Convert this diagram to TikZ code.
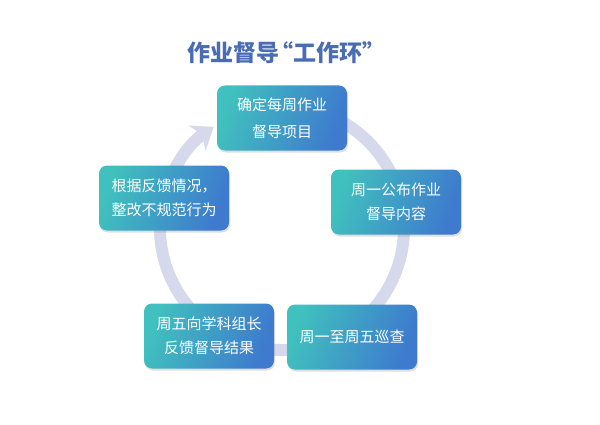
\documentclass[tikz,border=0pt]{standalone}
\usepackage{fontspec}
\newfontfamily\cjk{Noto Sans CJK SC}
\definecolor{TitleBlue}{RGB}{74, 108, 180}
\definecolor{BoxTeal}{RGB}{64, 192, 190}
\definecolor{BoxBlue}{RGB}{62, 122, 206}
\definecolor{RingGray}{RGB}{214, 217, 236}
\usetikzlibrary{arrows.meta, shadows}

\begin{document}
\begin{tikzpicture}[
    x=1pt, y=1pt,
    every node/.style={font=\cjk},
    stepbox/.style={rounded corners=8pt, minimum width=130pt, minimum height=65pt,
        align=center, text=white, font=\cjk\fontsize{15}{24}\selectfont,
        top color=BoxTeal, bottom color=BoxBlue, shading angle=70,
        drop shadow={opacity=0.25, shadow xshift=1pt, shadow yshift=-2pt}}
]
\useasboundingbox (0,0) rectangle (600,424);
% Ring
\draw[RingGray, line width=12pt, -{Stealth[length=20pt, width=30pt, inset=6pt]}]
    (282,196) ++(80:122) arc[start angle=80, end angle=-236, radius=122];
% Title
\node[TitleBlue, font=\cjk\bfseries\fontsize{23}{28}\selectfont] (title) at (286,371) {作业督导\kern-9pt“工作环”};
% Steps
\node[stepbox] (plan) at (282,306) {确定每周作业\\[3pt]督导项目};
\node[stepbox] (publish) at (396,222) {周一公布作业\\督导内容};
\node[stepbox] (patrol) at (352,87) {周一至周五巡查};
\node[stepbox] (report) at (209,88) {周五向学科组长\\反馈督导结果};
\node[stepbox] (improve) at (164,226) {根据反馈情况，\\整改不规范行为};
\end{tikzpicture}
\end{document}
